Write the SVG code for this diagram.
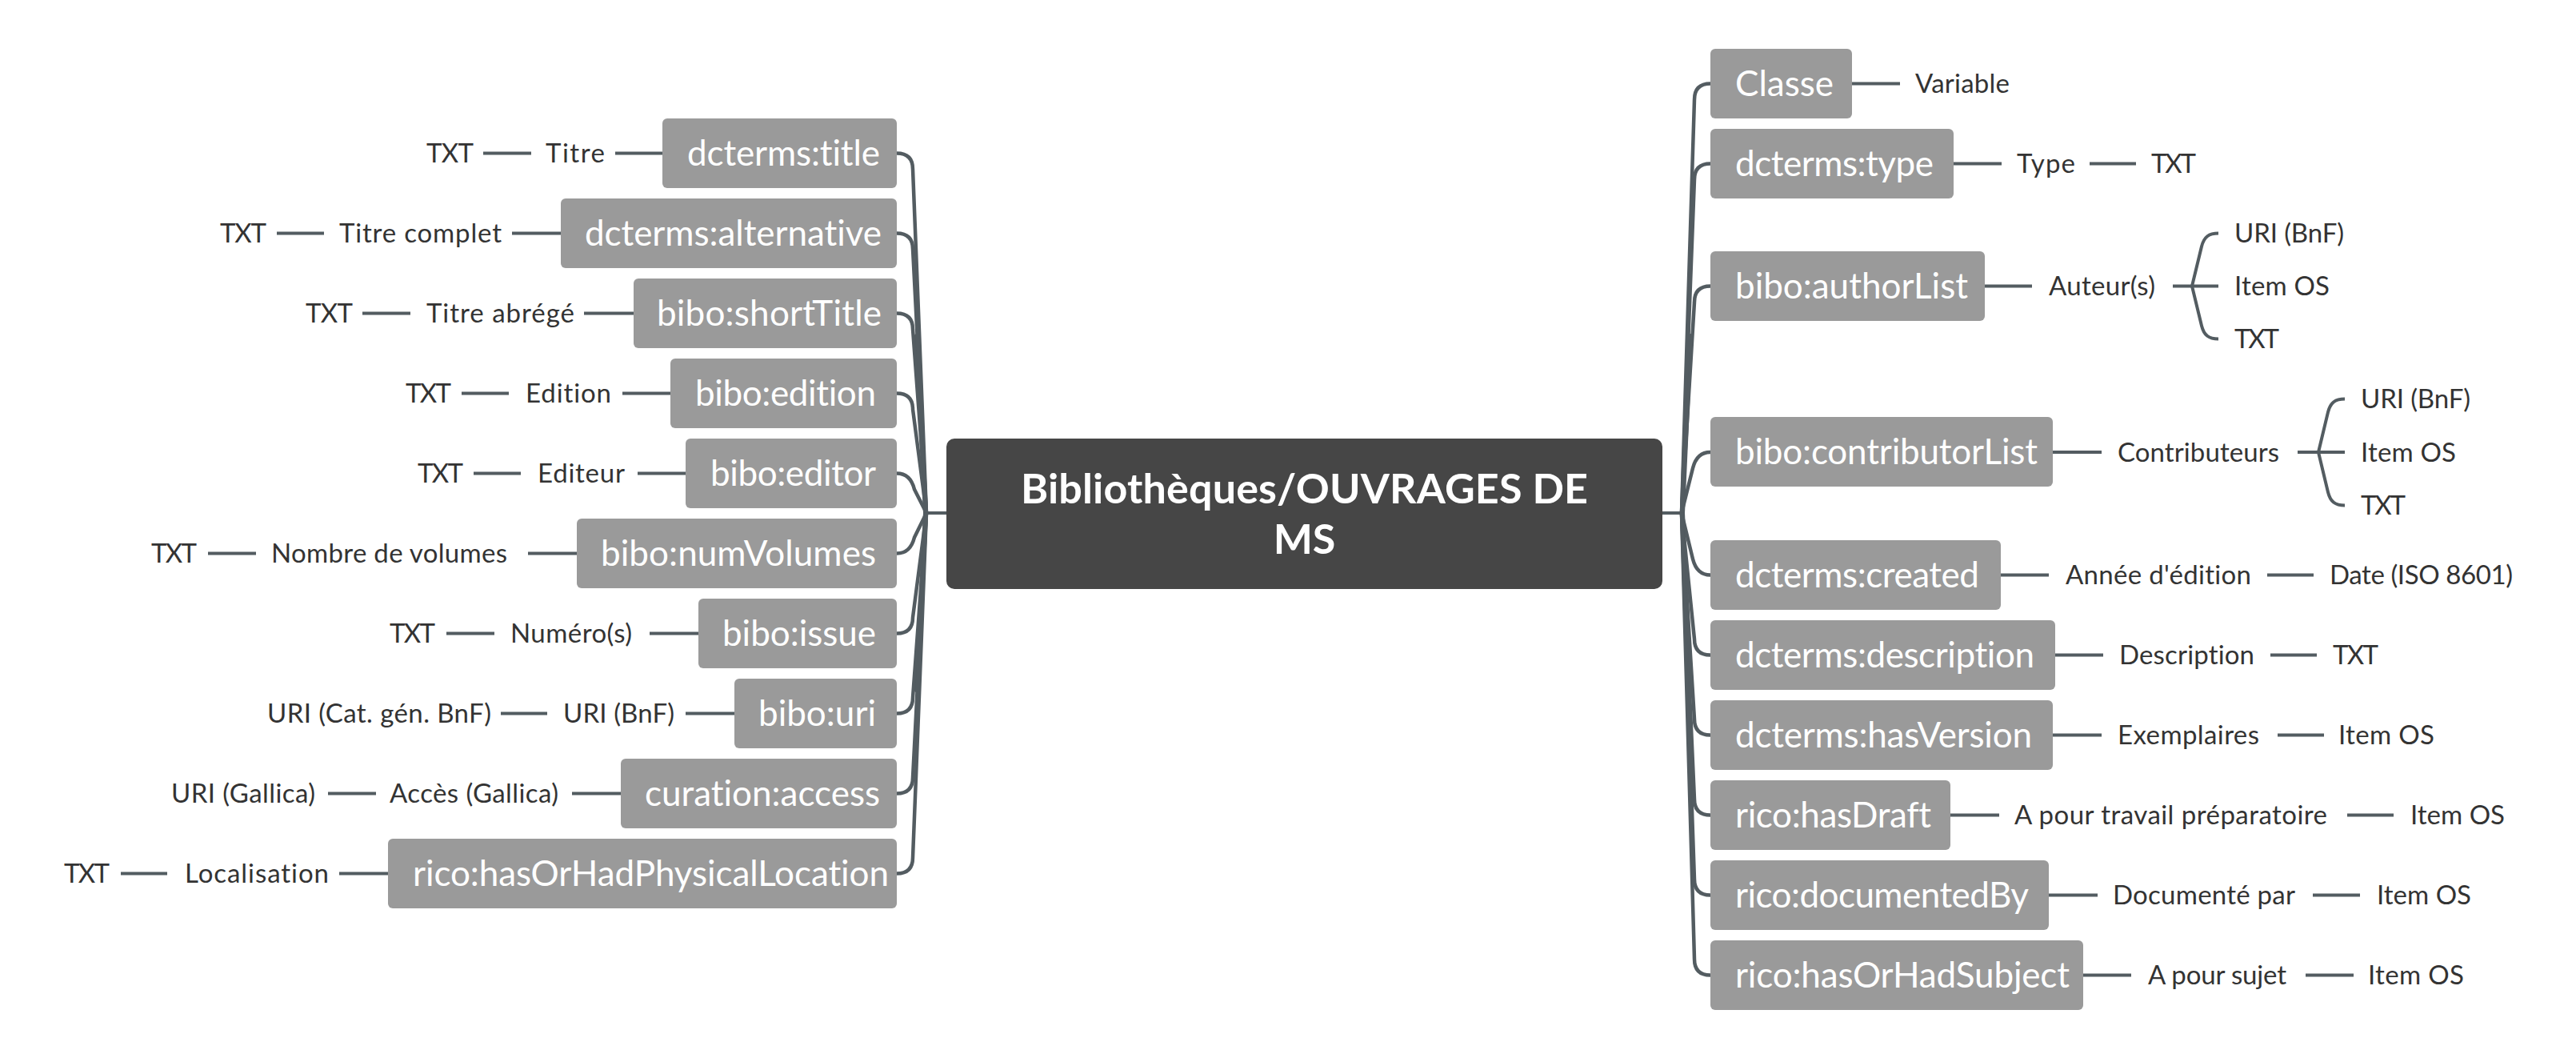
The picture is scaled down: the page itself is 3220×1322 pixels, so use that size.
<svg xmlns="http://www.w3.org/2000/svg" width="3220" height="1322" viewBox="0 0 3220 1322">
<style>
.bg{fill:#ffffff}
.box{fill:#9a9a9a}
.root{fill:#464646}
text{font-variant-ligatures:none;font-feature-settings:"liga" 0}
.lbl{font-family:Lato,"Liberation Sans",sans-serif;font-size:44px;fill:#ffffff}
.leaf{font-family:Lato,"Liberation Sans",sans-serif;font-size:33px;fill:#333333}
.ttl{font-family:Lato,"Liberation Sans",sans-serif;font-size:52px;font-weight:bold;fill:#ffffff}
.ln{stroke:#535c61;stroke-width:4;fill:none}
.br{stroke:#535c61;stroke-width:4.5;fill:none;stroke-linejoin:round}
.tr{stroke:#535c61;stroke-width:6;fill:none;stroke-linecap:round}
</style>
<rect class="bg" x="0" y="0" width="3220" height="1322"/>

<g id="connectors">
  <!-- root stubs -->
  <path class="ln" d="M1183,641 H1156"/>
  <path class="ln" d="M2077,641 H2104"/>
  <!-- tapered trunk reinforcement -->
  <path class="tr" d="M1157,641 L1146,420 M1157,641 L1146,862"/>
  <path class="tr" d="M2103,641 L2113,420 M2103,641 L2113,862"/>
  <!-- left main branches -->
  <path class="br" d="M1158,641 L1141,211.5 Q1141,191.5 1121,191.5"/>
  <path class="br" d="M1158,641 L1141,311.5 Q1141,291.5 1121,291.5"/>
  <path class="br" d="M1158,641 L1141,411.5 Q1141,391.5 1121,391.5"/>
  <path class="br" d="M1158,641 L1141,511.5 Q1141,491.5 1121,491.5"/>
  <path class="br" d="M1158,641 L1143,611.5 Q1138,591.5 1121,591.5"/>
  <path class="br" d="M1158,641 L1143,671.5 Q1138,691.5 1121,691.5"/>
  <path class="br" d="M1158,641 L1141,771.5 Q1141,791.5 1121,791.5"/>
  <path class="br" d="M1158,641 L1141,871.5 Q1141,891.5 1121,891.5"/>
  <path class="br" d="M1158,641 L1141,971.5 Q1141,991.5 1121,991.5"/>
  <path class="br" d="M1158,641 L1141,1071.5 Q1141,1091.5 1121,1091.5"/>
  <!-- right main branches -->
  <path class="br" d="M2102,641 L2118,124.5 Q2118,104.5 2138,104.5"/>
  <path class="br" d="M2102,641 L2118,224.5 Q2118,204.5 2138,204.5"/>
  <path class="br" d="M2102,641 L2118,377.5 Q2118,357.5 2138,357.5"/>
  <path class="br" d="M2102,641 L2116,585 Q2121,565 2138,565"/>
  <path class="br" d="M2102,641 L2116,698.5 Q2121,718.5 2138,718.5"/>
  <path class="br" d="M2102,641 L2118,798.5 Q2118,818.5 2138,818.5"/>
  <path class="br" d="M2102,641 L2118,898.5 Q2118,918.5 2138,918.5"/>
  <path class="br" d="M2102,641 L2118,998.5 Q2118,1018.5 2138,1018.5"/>
  <path class="br" d="M2102,641 L2118,1098.5 Q2118,1118.5 2138,1118.5"/>
  <path class="br" d="M2102,641 L2118,1198.5 Q2118,1218.5 2138,1218.5"/>
  <!-- left leaf lines -->
  <path class="ln" d="M828,191.5 H769 M664,191.5 H604"/>
  <path class="ln" d="M701,291.5 H640 M405,291.5 H346"/>
  <path class="ln" d="M792,391.5 H730 M513,391.5 H453"/>
  <path class="ln" d="M838,491.5 H778 M636,491.5 H577"/>
  <path class="ln" d="M857,591.5 H797 M651,591.5 H592"/>
  <path class="ln" d="M721,691.5 H660 M320,691.5 H260"/>
  <path class="ln" d="M873,791.5 H812 M618,791.5 H558"/>
  <path class="ln" d="M918,891.5 H857 M684,891.5 H626"/>
  <path class="ln" d="M776,991.5 H715 M470,991.5 H410"/>
  <path class="ln" d="M485,1091.5 H424 M209,1091.5 H151"/>
  <!-- right leaf lines -->
  <path class="ln" d="M2315,104.5 H2375"/>
  <path class="ln" d="M2442,204.5 H2502 M2612,204.5 H2670"/>
  <path class="ln" d="M2481,357.5 H2540 M2716,357.5 H2773"/>
  <path class="ln" d="M2740,357.5 L2752,308 C2755,296 2761,291.5 2773,291.5 M2740,357.5 L2752,407 C2755,419 2761,423.5 2773,423.5"/>
  <path class="ln" d="M2566,565 H2627 M2872,565 H2931"/>
  <path class="ln" d="M2898,565 L2910,515 C2913,503 2919,498.5 2931,498.5 M2898,565 L2910,615 C2913,627 2919,631.5 2931,631.5"/>
  <path class="ln" d="M2501,718.5 H2561 M2834,718.5 H2892"/>
  <path class="ln" d="M2569,818.5 H2629 M2838,818.5 H2896"/>
  <path class="ln" d="M2566,918.5 H2627 M2847,918.5 H2905"/>
  <path class="ln" d="M2438,1018.5 H2499 M2934,1018.5 H2992"/>
  <path class="ln" d="M2561,1118.5 H2622 M2891,1118.5 H2950"/>
  <path class="ln" d="M2604,1218.5 H2664 M2882,1218.5 H2942"/>
</g>

<g id="root">
  <rect class="root" x="1183" y="548" width="895" height="188" rx="10"/>
  <text class="ttl" x="1630.5" y="629" text-anchor="middle" textLength="709">Bibliothèques/OUVRAGES DE</text>
  <text class="ttl" x="1630.5" y="692" text-anchor="middle">MS</text>
</g>

<!-- left side -->
<g id="n-title">
  <rect class="box" x="828" y="148" width="293" height="87" rx="6"/>
  <text class="lbl" x="859" y="207" textLength="241">dcterms:title</text>
  <text class="leaf" x="682" y="203" textLength="74">Titre</text>
  <text class="leaf" x="533" y="203" textLength="59">TXT</text>
</g>
<g id="n-alternative">
  <rect class="box" x="701" y="248" width="420" height="87" rx="6"/>
  <text class="lbl" x="731" y="307" textLength="371">dcterms:alternative</text>
  <text class="leaf" x="424" y="303" textLength="203">Titre complet</text>
  <text class="leaf" x="275" y="303" textLength="58">TXT</text>
</g>
<g id="n-shortTitle">
  <rect class="box" x="792" y="348" width="329" height="87" rx="6"/>
  <text class="lbl" x="821" y="407" textLength="281">bibo:shortTitle</text>
  <text class="leaf" x="533" y="403" textLength="185">Titre abrégé</text>
  <text class="leaf" x="382" y="403" textLength="59">TXT</text>
</g>
<g id="n-edition">
  <rect class="box" x="838" y="448" width="283" height="87" rx="6"/>
  <text class="lbl" x="869" y="507" textLength="226">bibo:edition</text>
  <text class="leaf" x="657" y="503" textLength="107">Edition</text>
  <text class="leaf" x="507" y="503" textLength="57">TXT</text>
</g>
<g id="n-editor">
  <rect class="box" x="857" y="548" width="264" height="87" rx="6"/>
  <text class="lbl" x="888" y="607" textLength="207">bibo:editor</text>
  <text class="leaf" x="672" y="603" textLength="109">Editeur</text>
  <text class="leaf" x="522" y="603" textLength="57">TXT</text>
</g>
<g id="n-numVolumes">
  <rect class="box" x="721" y="648" width="400" height="87" rx="6"/>
  <text class="lbl" x="751" y="707" textLength="344">bibo:numVolumes</text>
  <text class="leaf" x="339" y="703" textLength="295">Nombre de volumes</text>
  <text class="leaf" x="189" y="703" textLength="57">TXT</text>
</g>
<g id="n-issue">
  <rect class="box" x="873" y="748" width="248" height="87" rx="6"/>
  <text class="lbl" x="903" y="807" textLength="192">bibo:issue</text>
  <text class="leaf" x="638" y="803" textLength="152">Numéro(s)</text>
  <text class="leaf" x="487" y="803" textLength="57">TXT</text>
</g>
<g id="n-uri">
  <rect class="box" x="918" y="848" width="203" height="87" rx="6"/>
  <text class="lbl" x="948" y="907" textLength="147">bibo:uri</text>
  <text class="leaf" x="704" y="903" textLength="139">URI (BnF)</text>
  <text class="leaf" x="334" y="903" textLength="280">URI (Cat. gén. BnF)</text>
</g>
<g id="n-access">
  <rect class="box" x="776" y="948" width="345" height="87" rx="6"/>
  <text class="lbl" x="806" y="1007" textLength="294">curation:access</text>
  <text class="leaf" x="487" y="1003" textLength="211">Accès (Gallica)</text>
  <text class="leaf" x="214" y="1003" textLength="180">URI (Gallica)</text>
</g>
<g id="n-physLoc">
  <rect class="box" x="485" y="1048" width="636" height="87" rx="6"/>
  <text class="lbl" x="516" y="1107" textLength="595">rico:hasOrHadPhysicalLocation</text>
  <text class="leaf" x="231" y="1103" textLength="180">Localisation</text>
  <text class="leaf" x="80" y="1103" textLength="57">TXT</text>
</g>

<!-- right side -->
<g id="n-classe">
  <rect class="box" x="2138" y="61" width="177" height="87" rx="6"/>
  <text class="lbl" x="2169" y="120" textLength="123">Classe</text>
  <text class="leaf" x="2394" y="116" textLength="118">Variable</text>
</g>
<g id="n-type">
  <rect class="box" x="2138" y="161" width="304" height="87" rx="6"/>
  <text class="lbl" x="2169" y="220" textLength="248">dcterms:type</text>
  <text class="leaf" x="2521" y="216" textLength="73">Type</text>
  <text class="leaf" x="2689" y="216" textLength="56">TXT</text>
</g>
<g id="n-authorList">
  <rect class="box" x="2138" y="314" width="343" height="87" rx="6"/>
  <text class="lbl" x="2169" y="373" textLength="291">bibo:authorList</text>
  <text class="leaf" x="2561" y="369" textLength="133">Auteur(s)</text>
  <text class="leaf" x="2793" y="303" textLength="137">URI (BnF)</text>
  <text class="leaf" x="2793" y="369" textLength="119">Item OS</text>
  <text class="leaf" x="2793" y="435" textLength="56">TXT</text>
</g>
<g id="n-contributorList">
  <rect class="box" x="2138" y="521" width="428" height="87" rx="6"/>
  <text class="lbl" x="2169" y="580" textLength="378">bibo:contributorList</text>
  <text class="leaf" x="2647" y="576.5" textLength="202">Contributeurs</text>
  <text class="leaf" x="2951" y="510" textLength="137">URI (BnF)</text>
  <text class="leaf" x="2951" y="576.5" textLength="119">Item OS</text>
  <text class="leaf" x="2951" y="643" textLength="56">TXT</text>
</g>
<g id="n-created">
  <rect class="box" x="2138" y="675" width="363" height="87" rx="6"/>
  <text class="lbl" x="2169" y="734" textLength="305">dcterms:created</text>
  <text class="leaf" x="2582" y="730" textLength="232">Année d'édition</text>
  <text class="leaf" x="2912" y="730" textLength="229">Date (ISO 8601)</text>
</g>
<g id="n-description">
  <rect class="box" x="2138" y="775" width="431" height="87" rx="6"/>
  <text class="lbl" x="2169" y="834" textLength="374">dcterms:description</text>
  <text class="leaf" x="2649" y="830" textLength="169">Description</text>
  <text class="leaf" x="2916" y="830" textLength="57">TXT</text>
</g>
<g id="n-hasVersion">
  <rect class="box" x="2138" y="875" width="428" height="87" rx="6"/>
  <text class="lbl" x="2169" y="934" textLength="371">dcterms:hasVersion</text>
  <text class="leaf" x="2647" y="930" textLength="177">Exemplaires</text>
  <text class="leaf" x="2923" y="930" textLength="120">Item OS</text>
</g>
<g id="n-hasDraft">
  <rect class="box" x="2138" y="975" width="300" height="87" rx="6"/>
  <text class="lbl" x="2169" y="1034" textLength="245">rico:hasDraft</text>
  <text class="leaf" x="2518" y="1030" textLength="391">A pour travail préparatoire</text>
  <text class="leaf" x="3013" y="1030" textLength="118">Item OS</text>
</g>
<g id="n-documentedBy">
  <rect class="box" x="2138" y="1075" width="423" height="87" rx="6"/>
  <text class="lbl" x="2169" y="1134" textLength="367">rico:documentedBy</text>
  <text class="leaf" x="2641" y="1130" textLength="228">Documenté par</text>
  <text class="leaf" x="2971" y="1130" textLength="118">Item OS</text>
</g>
<g id="n-hasOrHadSubject">
  <rect class="box" x="2138" y="1175" width="466" height="87" rx="6"/>
  <text class="lbl" x="2169" y="1234" textLength="418">rico:hasOrHadSubject</text>
  <text class="leaf" x="2685" y="1230" textLength="173">A pour sujet</text>
  <text class="leaf" x="2960" y="1230" textLength="120">Item OS</text>
</g>
</svg>
